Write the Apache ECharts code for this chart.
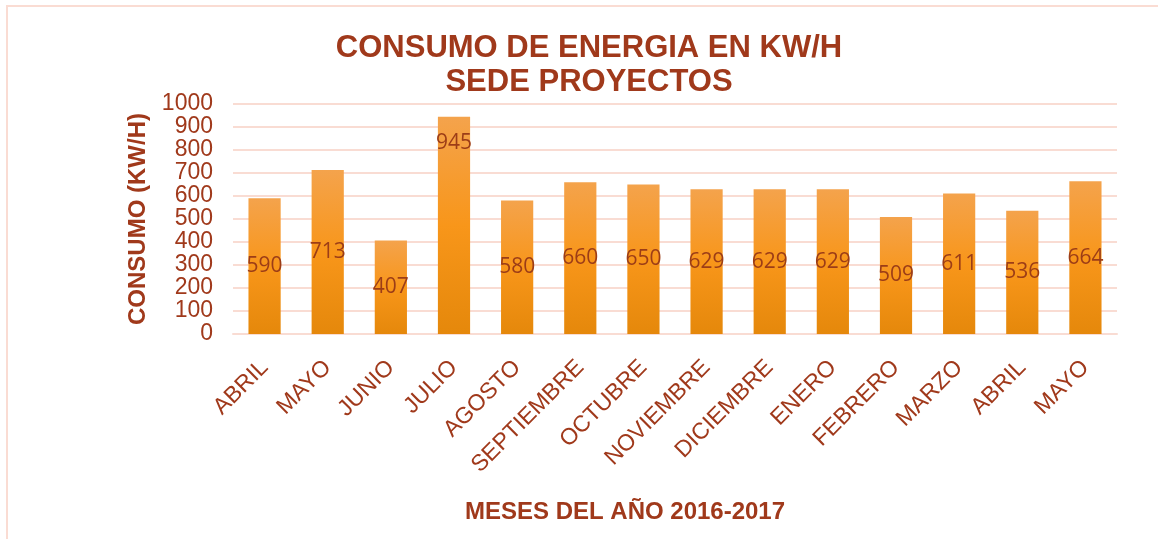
<!DOCTYPE html>
<html>
<head>
<meta charset="utf-8">
<script src="https://cdn.jsdelivr.net/npm/echarts@6/dist/echarts.min.js"></script>
<style>
  html, body { margin: 0; padding: 0; background: #fff; }
  #chart { width: 1158px; height: 539px; }
  #frame { position: absolute; left: 6px; top: 5px; width: 1170px; height: 560px; border: 2px solid #fadcd3; box-sizing: border-box; pointer-events: none; }
</style>
</head>
<body>
<div id="chart"></div>
<div id="frame"></div>
<script>
// categorias (meses)
const months = ['ABRIL', 'MAYO', 'JUNIO', 'JULIO', 'AGOSTO', 'SEPTIEMBRE', 'OCTUBRE',
  'NOVIEMBRE', 'DICIEMBRE', 'ENERO', 'FEBRERO', 'MARZO', 'ABRIL', 'MAYO'];
// consumo en KW/H
const consumo = [590, 713, 407, 945, 580, 660, 650, 629, 629, 629, 509, 611, 536, 664];
const yTicks = [0, 1000, 100]; // min, max, intervalo

const textColor = '#a0391b';

const chart = echarts.init(document.getElementById('chart'));

const option = {
  backgroundColor: '#fff',
  animation: false,
  title: {
    text: 'CONSUMO DE ENERGIA EN KW/H\nSEDE PROYECTOS',
    left: 584,
    top: 26,
    textAlign: 'center',
    textStyle: {
      color: textColor,
      fontFamily: 'Liberation Sans, Arial',
      fontWeight: 'bold',
      fontSize: 31,
      lineHeight: 34
    }
  },
  grid: { left: 233, right: 41, top: 104, bottom: 205, containLabel: false },
  xAxis: {
    type: 'category',
    data: months,
    name: 'MESES DEL AÑO 2016-2017',
    nameLocation: 'middle',
    nameGap: 166,
    nameTextStyle: {
      color: textColor, fontFamily: 'Liberation Sans, Arial',
      fontWeight: 'bold', fontSize: 24,
      padding: [0, 100, 0, 0]
    },
    axisLine: { show: true, lineStyle: { color: '#f9dcd3', width: 2 } },
    axisTick: { show: false },
    axisLabel: {
      rotate: 45,
      interval: 0,
      margin: 30,
      color: textColor,
      fontFamily: 'Liberation Sans, Arial',
      fontSize: 23
    }
  },
  yAxis: {
    type: 'value',
    min: yTicks[0],
    max: yTicks[1],
    interval: yTicks[2],
    name: 'CONSUMO (KW/H)',
    nameLocation: 'middle',
    nameRotate: 90,
    nameGap: 83,
    nameTextStyle: {
      color: textColor, fontFamily: 'Liberation Sans, Arial',
      fontWeight: 'bold', fontSize: 24
    },
    axisLine: { show: false },
    axisTick: { show: false },
    axisLabel: {
      color: textColor, fontFamily: 'Liberation Sans, Arial',
      fontSize: 23, margin: 20,
      formatter: v => String(v)
    },
    splitLine: { lineStyle: { color: '#f9dcd3', width: 2 } }
  },
  series: [{
    type: 'bar',
    barWidth: '51%',
    data: consumo.map((v, i) => {
      const d = { value: v };
      if (i === 3) d.label = { position: 'insideTop', distance: 16 };
      return d;
    }),
    itemStyle: {
      color: {
        type: 'linear', x: 0, y: 0, x2: 0, y2: 1,
        colorStops: [
          { offset: 0, color: '#f4a34c' },
          { offset: 0.5, color: '#f8961a' },
          { offset: 1, color: '#e5880b' }
        ]
      }
    },
    label: {
      show: true,
      position: 'inside',
      color: '#9c3d17',
      fontFamily: 'Open Sans, Noto Sans',
      fontSize: 21
    }
  }]
};

chart.setOption(option);
</script>
</body>
</html>
